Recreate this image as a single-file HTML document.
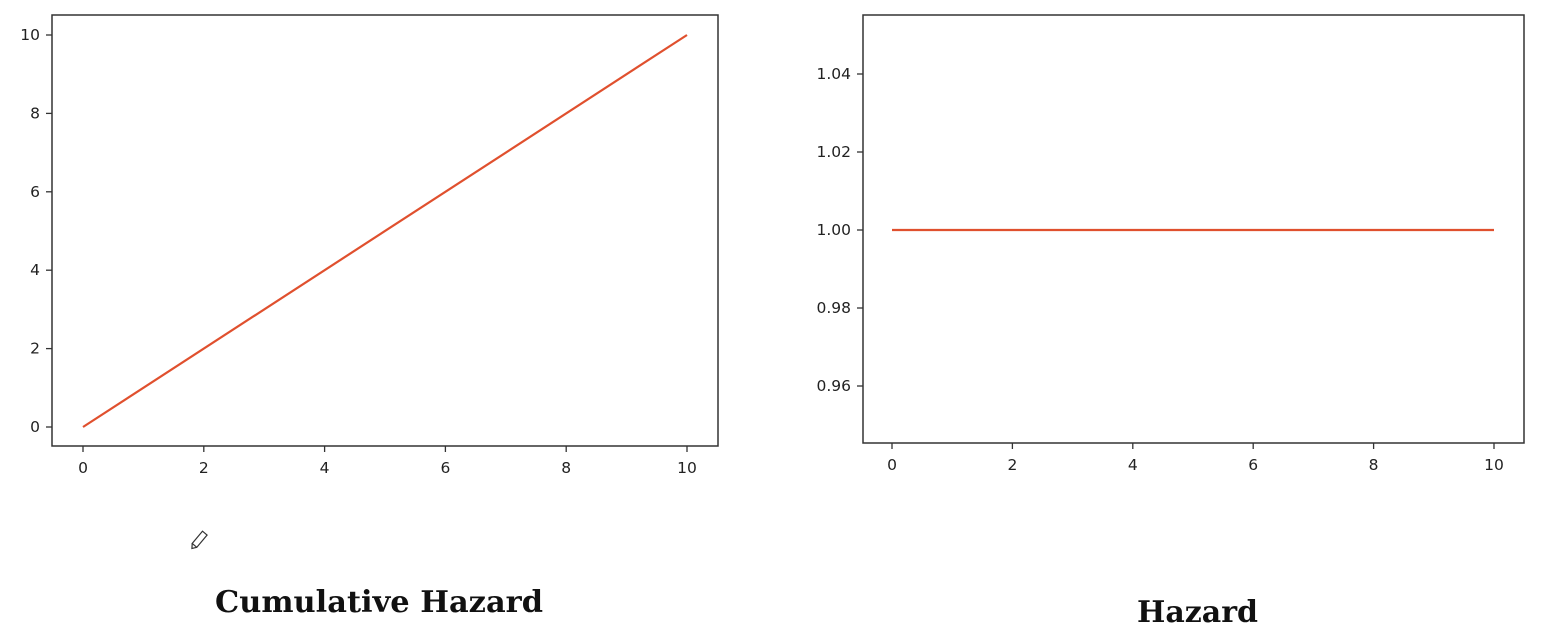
<!DOCTYPE html>
<html><head><meta charset="utf-8"><style>
body{margin:0;background:#fff;width:1544px;height:638px;overflow:hidden}
svg{display:block}
text{font-family:"DejaVu Sans","Liberation Sans",sans-serif;font-size:15.5px;fill:#222}
.t{font-family:"DejaVu Serif","Liberation Serif",serif;font-weight:bold;font-size:30px;fill:#111}
</style></head><body>
<svg id="c" width="1544" height="638">
<text class="t" x="215" y="612" textLength="328" lengthAdjust="spacingAndGlyphs">Cumulative Hazard</text>
<text class="t" x="1137" y="622" textLength="121" lengthAdjust="spacingAndGlyphs">Hazard</text>
<g transform="translate(199,540) rotate(40)"><rect x="-3" y="-9" width="6" height="16" fill="none" stroke="#333" stroke-width="1.2"/><path d="M-3 7 L0 11 L3 7" fill="none" stroke="#333" stroke-width="1.2"/></g>
</svg>
<script>
const xTicks=[0,2,4,6,8,10];
const cumX=[0,10];
const cumY=[0,10];
const cumYTicks=[0,2,4,6,8,10];
const hazX=[0,10];
const hazY=[1.0,1.0];
const hazYTicks=[0.96,0.98,1.00,1.02,1.04];
const hazYLabels=["0.96","0.98","1.00","1.02","1.04"];
const NS="http://www.w3.org/2000/svg";
const svg=document.getElementById('c');
function mk(t,a,p){const e=document.createElementNS(NS,t);for(const k in a)e.setAttribute(k,a[k]);(p||svg).appendChild(e);return e;}
function panel(o){
  const g=mk('g',{});
  
  
  const sx=v=>o.x0+(v-o.xmin)/(o.xmax-o.xmin)*(o.x1-o.x0);
  const sy=v=>o.y0+(v-o.ymin)/(o.ymax-o.ymin)*(o.y1-o.y0);
  const fr=mk('rect',{x:o.L,y:o.T,width:o.R-o.L,height:o.B-o.T,fill:'none',stroke:'#333','stroke-width':1.5},g);
  
  
  xTicks.forEach(v=>{const x=sx(v);
    mk('line',{x1:x,x2:x,y1:o.B,y2:o.B+6,stroke:'#333','stroke-width':1.3},g);
    const t=mk('text',{x:x,y:o.B+27,'text-anchor':'middle'},g);t.textContent=v;
    
    });
  o.yt.forEach((v,i)=>{const y=sy(v);
    mk('line',{x1:o.L-6,x2:o.L,y1:y,y2:y,stroke:'#333','stroke-width':1.3},g);
    const t=mk('text',{x:o.L-12,y:y+5,'text-anchor':'end'},g);t.textContent=o.yl[i];
    
    });
  const pts=o.xs.map((v,i)=>sx(v)+','+sy(o.ys[i])).join(' ');
  const l=mk('polyline',{points:pts,fill:'none',stroke:'#e0502e','stroke-width':2.2},g);
  
  
}
panel({name:'cumulative-hazard-chart',L:52,R:718,T:15,B:446,x0:83,x1:687,xmin:0,xmax:10,y0:427,y1:35,ymin:0,ymax:10,
  yt:cumYTicks,yl:cumYTicks.map(String),xs:cumX,ys:cumY});
panel({name:'hazard-chart',L:863,R:1524,T:15,B:443,x0:892,x1:1494,xmin:0,xmax:10,y0:386,y1:74,ymin:0.96,ymax:1.04,
  yt:hazYTicks,yl:hazYLabels,xs:hazX,ys:hazY});
</script>
</body></html>
